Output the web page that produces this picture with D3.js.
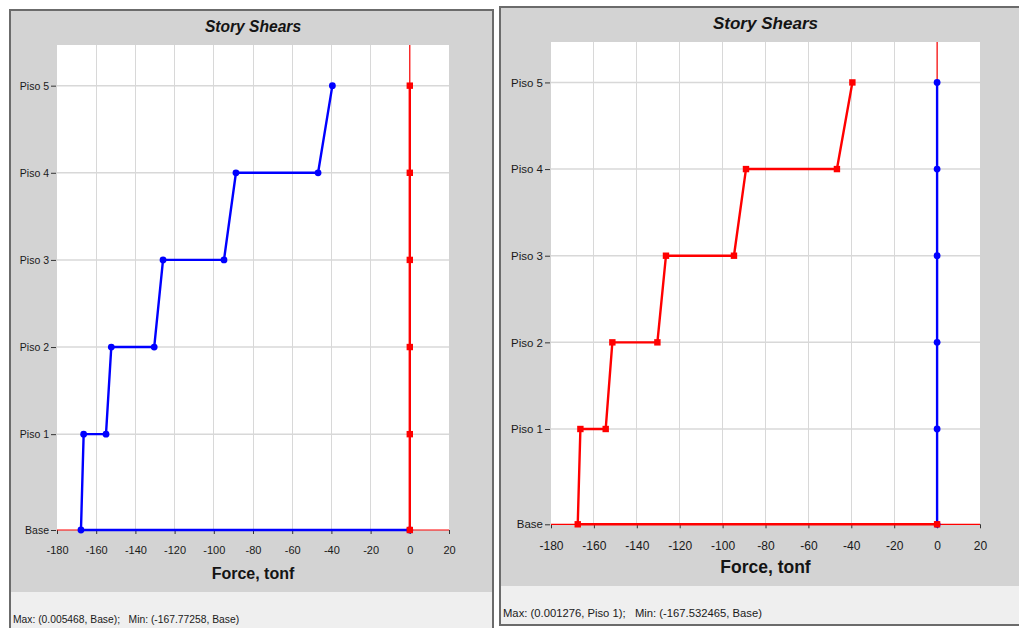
<!DOCTYPE html>
<html>
<head>
<meta charset="utf-8">
<script src="https://cdn.jsdelivr.net/npm/d3@7"></script>
<style>
  html, body { margin: 0; padding: 0; background: #ffffff; }
  svg { display: block; font-family: "Liberation Sans", Arial, sans-serif; }
</style>
</head>
<body>
<svg id="chart" width="1019" height="628"></svg>
<script>
// Story levels and their elevations (m)
const storyNames = ["Base", "Piso 1", "Piso 2", "Piso 3", "Piso 4", "Piso 5"];
const storyElev = [0, 3.3, 6.3, 9.3, 12.3, 15.3];

// Force axis ticks (tonf)
const forceTicks = [-180, -160, -140, -120, -100, -80, -60, -40, -20, 0, 20];

// Left chart: shear at top / bottom of each story, Piso 5 down to Piso 1
const leftTop    = [-39.5, -88.7, -125.9, -152.3, -166.4];
const leftBottom = [-46.8, -94.8, -130.4, -155.0, -167.77258];
const leftBaseEnd = 0.005468;
// Left chart: orthogonal direction, per level Base..Piso 5
const leftOther = [0, 0, 0, 0, 0, 0];

// Right chart: shear at top / bottom of each story, Piso 5 down to Piso 1
const rightTop    = [-39.5, -89.1, -126.4, -151.4, -166.3];
const rightBottom = [-46.7, -94.7, -130.4, -154.5, -167.532465];
const rightBaseEnd = 0;
// Right chart: orthogonal direction, per level Base..Piso 5
const rightOther = [0, 0.001276, 0, 0, 0, 0];

const leftFooter  = "Max: (0.005468, Base);   Min: (-167.77258, Base)";
const rightFooter = "Max: (0.001276, Piso 1);   Min: (-167.532465, Base)";

const BLUE = "#0000ff", RED = "#ff0000";

const svg = d3.select("#chart");

// Builds the stepped story-shear path: top of Piso 5 down to the base
function shearPath(tops, bottoms, baseEnd) {
  const pts = [];
  const n = tops.length;
  for (let i = 0; i < n; i++) {
    const upper = n - i;      // level index of story top
    const lower = upper - 1;  // level index of story bottom
    pts.push({ v: tops[i], e: storyElev[upper] });
    pts.push({ v: bottoms[i], e: storyElev[lower] });
  }
  pts.push({ v: baseEnd, e: storyElev[0] });
  return pts;
}

function drawPanel(cfg) {
  const g = svg.append("g");
  const k = cfg.scale; // text / mark scale of this panel

  // panel frame, gray chart area and light footer strip
  g.append("rect")
    .attr("x", cfg.box.x).attr("y", cfg.box.y)
    .attr("width", cfg.box.w).attr("height", cfg.box.h)
    .attr("fill", "#d3d3d3");
  g.append("rect")
    .attr("x", cfg.box.x).attr("y", cfg.footerY)
    .attr("width", cfg.box.w).attr("height", cfg.box.y + cfg.box.h - cfg.footerY)
    .attr("fill", "#efefef");
  g.append("rect")
    .attr("x", cfg.box.x).attr("y", cfg.box.y)
    .attr("width", cfg.box.w).attr("height", cfg.box.h)
    .attr("fill", "none").attr("stroke", "#6b6b6b").attr("stroke-width", 2);

  const x = d3.scaleLinear().domain([-180, 20]).range([cfg.plot.x0, cfg.plot.x1]);
  const y = d3.scaleLinear().domain([0, 16.7]).range([cfg.plot.y1, cfg.plot.y0]);

  // white plotting area
  g.append("rect")
    .attr("x", cfg.plot.x0).attr("y", cfg.plot.y0)
    .attr("width", cfg.plot.x1 - cfg.plot.x0).attr("height", cfg.plot.y1 - cfg.plot.y0)
    .attr("fill", "#ffffff");

  // grid
  g.append("g").selectAll("line").data(forceTicks.slice(1, -1)).join("line")
    .attr("x1", d => x(d)).attr("x2", d => x(d))
    .attr("y1", cfg.plot.y0).attr("y2", cfg.plot.y1)
    .attr("stroke", "#d8d8d8").attr("stroke-width", 1).attr("shape-rendering", "crispEdges");
  g.append("g").selectAll("line").data(storyElev.slice(1)).join("line")
    .attr("x1", cfg.plot.x0).attr("x2", cfg.plot.x1)
    .attr("y1", d => y(d)).attr("y2", d => y(d))
    .attr("stroke", "#d8d8d8").attr("stroke-width", 1.5);

  // axes
  const xAxis = g.append("g")
    .attr("transform", `translate(0,${cfg.plot.y1})`)
    .call(d3.axisBottom(x).tickValues(forceTicks).tickSize(4).tickPadding(12 * k)
      .tickFormat(d => String(d)));
  xAxis.select(".domain").remove();
  xAxis.selectAll(".tick line").attr("stroke", "#333");
  xAxis.selectAll("text").attr("font-size", 11 * k).attr("fill", "#1a1a1a")
    .attr("font-family", "'Liberation Sans', Arial, sans-serif");

  const yAxis = g.append("g")
    .attr("transform", `translate(${cfg.plot.x0 - 1},0)`)
    .call(d3.axisLeft(y).tickValues(storyElev).tickSize(5).tickPadding(2)
      .tickFormat((d, i) => storyNames[i]));
  yAxis.select(".domain").remove();
  yAxis.selectAll(".tick line").attr("stroke", "#333");
  yAxis.selectAll("text").attr("font-size", 10.5 * k).attr("fill", "#1a1a1a")
    .attr("font-family", "'Liberation Sans', Arial, sans-serif");

  // zero reference lines
  g.append("line")
    .attr("x1", cfg.plot.x0).attr("x2", cfg.plot.x1)
    .attr("y1", y(0)).attr("y2", y(0))
    .attr("stroke", RED).attr("stroke-width", 1.2);
  g.append("line")
    .attr("x1", x(0)).attr("x2", x(0))
    .attr("y1", cfg.plot.y0).attr("y2", y(0))
    .attr("stroke", RED).attr("stroke-width", 1.2);

  const line = d3.line().x(d => x(d.v)).y(d => y(d.e));

  function drawSeries(pts, color, marker) {
    g.append("path").datum(pts)
      .attr("d", line).attr("fill", "none")
      .attr("stroke", color).attr("stroke-width", 2.4).attr("stroke-linejoin", "round");
    const m = g.append("g");
    if (marker === "circle") {
      m.selectAll("circle").data(pts).join("circle")
        .attr("cx", d => x(d.v)).attr("cy", d => y(d.e)).attr("r", 3.4).attr("fill", color);
    } else {
      m.selectAll("rect").data(pts).join("rect")
        .attr("x", d => x(d.v) - 3.2).attr("y", d => y(d.e) - 3.2)
        .attr("width", 6.4).attr("height", 6.4).attr("fill", color);
    }
  }

  const mainPts = shearPath(cfg.tops, cfg.bottoms, cfg.baseEnd);
  const otherPts = cfg.other.map((v, i) => ({ v: v, e: storyElev[i] })).reverse();

  if (cfg.mainFirst) {
    drawSeries(mainPts, cfg.mainColor, cfg.mainMarker);
    drawSeries(otherPts, cfg.otherColor, cfg.otherMarker);
  } else {
    drawSeries(otherPts, cfg.otherColor, cfg.otherMarker);
    drawSeries(mainPts, cfg.mainColor, cfg.mainMarker);
  }

  const cx = (cfg.plot.x0 + cfg.plot.x1) / 2;

  g.append("text")
    .attr("x", cx).attr("y", cfg.titleY)
    .attr("text-anchor", "middle")
    .attr("font-size", 15.6 * k).attr("font-weight", "bold").attr("font-style", "italic")
    .attr("fill", "#141414")
    .text("Story Shears");

  g.append("text")
    .attr("x", cx).attr("y", cfg.axisTitleY)
    .attr("text-anchor", "middle")
    .attr("font-size", 16 * k).attr("font-weight", "bold")
    .attr("fill", "#141414")
    .text("Force, tonf");

  g.append("text")
    .attr("x", cfg.footerX).attr("y", cfg.footerTextY)
    .attr("font-size", 10.3 * k).attr("fill", "#1a1a1a")
    .style("white-space", "pre")
    .text(cfg.footer);
}

drawPanel({
  scale: 1,
  box: { x: 10, y: 10, w: 483, h: 625 },
  footerY: 592,
  plot: { x0: 57, x1: 449, y0: 45, y1: 530 },
  tops: leftTop, bottoms: leftBottom, baseEnd: leftBaseEnd, other: leftOther,
  mainColor: BLUE, mainMarker: "circle",
  otherColor: RED, otherMarker: "square",
  mainFirst: true,
  titleY: 32, axisTitleY: 579,
  footer: leftFooter, footerX: 13, footerTextY: 623
});

drawPanel({
  scale: 1.094,
  box: { x: 500, y: 7, w: 530, h: 618 },
  footerY: 586,
  plot: { x0: 551, x1: 980, y0: 42, y1: 524.3 },
  tops: rightTop, bottoms: rightBottom, baseEnd: rightBaseEnd, other: rightOther,
  mainColor: RED, mainMarker: "square",
  otherColor: BLUE, otherMarker: "circle",
  mainFirst: false,
  titleY: 29, axisTitleY: 573,
  footer: rightFooter, footerX: 503, footerTextY: 617
});
</script>
</body>
</html>
